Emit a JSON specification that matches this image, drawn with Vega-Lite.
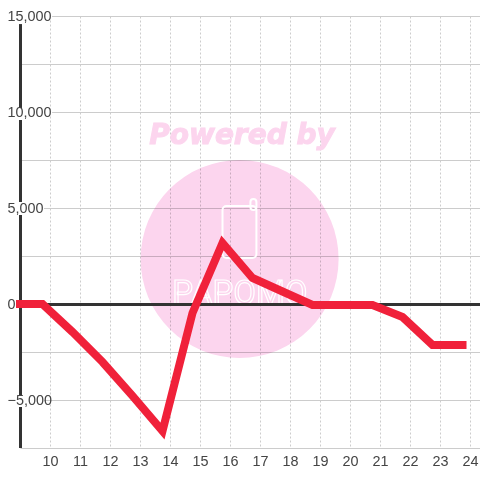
{"$schema":"https://vega.github.io/schema/vega-lite/v6.json","width":460,"height":432,"autosize":"none","padding":{"left":20,"top":16,"right":0,"bottom":32},"background":"white","view":{"stroke":null},
"resolve":{"axis":{"x":"independent","y":"independent"}},
"datasets":{"series":[{"hour":9,"value":0},{"hour":9.75,"value":0},{"hour":10.75,"value":-1458},{"hour":11.75,"value":-3020},{"hour":12.75,"value":-4790},{"hour":13.75,"value":-6615},{"hour":14.75,"value":-470},{"hour":15.75,"value":3177},{"hour":16.75,"value":1354},{"hour":17.75,"value":650},{"hour":18.75,"value":-52},{"hour":19.75,"value":-52},{"hour":20.75,"value":-52},{"hour":21.75,"value":-680},{"hour":22.75,"value":-2135},{"hour":23.75,"value":-2135}],
"barParts":[{"at":9,"from":14580,"to":10208},{"at":9,"from":9583,"to":5312},{"at":9,"from":4635,"to":-4740},{"at":9,"from":-5365,"to":-7500}],
"labelGaps":[{"v":15000,"start":9,"end":10.07},{"v":10000,"start":9,"end":10.07},{"v":5000,"start":9,"end":9.8},{"v":-5000,"start":9,"end":9.8}],"one":[{"k":1}]},
"layer":[
{"data":{"name":"series"},"mark":{"type":"line","opacity":0},"encoding":{
"x":{"field":"hour","type":"quantitative","scale":{"domain":[9,24.333],"nice":false,"zero":false},"axis":{"title":null,"orient":"bottom","values":[10,11,12,13,14,15,16,17,18,19,20,21,22,23,24],"domain":false,"ticks":false,"labels":false,"grid":true,"gridColor":"#cccccc","gridDash":[2,2],"gridWidth":1}},
"y":{"field":"value","type":"quantitative","scale":{"domain":[-7500,15000],"nice":false,"zero":false},"axis":{"title":null,"orient":"left","values":[-7500,-5000,-2500,2500,5000,7500,10000,12500,15000],"domain":false,"ticks":false,"labels":false,"grid":true,"gridColor":"#cccccc","gridWidth":1}}}},
{"data":{"name":"one"},"mark":{"type":"circle","size":39204,"fill":"#fcd5ee","opacity":1,"blend":"multiply","clip":false},"encoding":{"x":{"datum":16.32,"type":"quantitative","axis":null},"y":{"datum":2344,"type":"quantitative","axis":null}}},
{"data":{"name":"one"},"mark":{"type":"text","text":"Powered by","font":"DejaVu Sans","fontWeight":"bold","fontStyle":"italic","fontSize":28,"fill":"#fcd5ee","stroke":"#fcd5ee","strokeWidth":1,"align":"center","baseline":"middle"},"encoding":{"x":{"datum":16.4,"type":"quantitative","axis":null},"y":{"datum":8750,"type":"quantitative","axis":null}}},
{"data":{"name":"one"},"mark":{"type":"rect","fillOpacity":0,"stroke":"white","strokeWidth":2,"cornerRadius":4},"encoding":{"x":{"datum":15.75,"type":"quantitative","axis":null},"x2":{"datum":16.88},"y":{"datum":5104,"type":"quantitative","axis":null},"y2":{"datum":2396}}},
{"data":{"name":"one"},"mark":{"type":"rect","fillOpacity":0,"stroke":"white","strokeWidth":2,"cornerRadius":3},"encoding":{"x":{"datum":16.68,"type":"quantitative","axis":null},"x2":{"datum":16.88},"y":{"datum":5469,"type":"quantitative","axis":null},"y2":{"datum":4900}}},
{"data":{"name":"one"},"mark":{"type":"text","text":"PAPOMO","font":"Roboto","fontSize":33,"fill":"#fcd5ee","stroke":"white","strokeWidth":1.2,"align":"center","baseline":"alphabetic"},"encoding":{"x":{"datum":16.33,"type":"quantitative","axis":null},"y":{"datum":0,"type":"quantitative","axis":null}}},
{"data":{"name":"labelGaps"},"mark":{"type":"rule","stroke":"white","strokeWidth":3},"encoding":{"x":{"field":"start","type":"quantitative","axis":null},"x2":{"field":"end"},"y":{"field":"v","type":"quantitative","axis":null}}},
{"data":{"name":"one"},"mark":{"type":"rule","stroke":"#333333","strokeWidth":3,"yOffset":0.5},"encoding":{"y":{"datum":0,"type":"quantitative","axis":null}}},
{"data":{"name":"barParts"},"mark":{"type":"rule","stroke":"#333333","strokeWidth":3,"xOffset":0.5},"encoding":{"x":{"field":"at","type":"quantitative","axis":null},"y":{"field":"from","type":"quantitative","axis":null},"y2":{"field":"to"}}},
{"data":{"name":"series"},"mark":{"type":"line","stroke":"#f0213a","strokeWidth":8,"strokeCap":"square","strokeJoin":"miter","clip":false},"encoding":{"x":{"field":"hour","type":"quantitative","axis":null},"y":{"field":"value","type":"quantitative","axis":null}}},
{"data":{"name":"series"},"mark":{"type":"line","opacity":0},"encoding":{
"x":{"field":"hour","type":"quantitative","axis":{"title":null,"orient":"bottom","values":[10,11,12,13,14,15,16,17,18,19,20,21,22,23,24],"format":"d","domain":false,"ticks":false,"labelPadding":6,"labelFont":"Liberation Sans","labelFontSize":14.4,"labelColor":"#444444","grid":false,"labelFlush":false,"labelOverlap":false,"zindex":1}},
"y":{"field":"value","type":"quantitative","axis":{"title":null,"orient":"left","values":[-5000,0,5000,10000,15000],"format":",d","domain":false,"ticks":false,"labelAlign":"left","labelPadding":13,"labelFont":"Liberation Sans","labelFontSize":14.4,"labelColor":"#444444","grid":false,"labelOverlap":false,"labelFlush":false,"zindex":1,"encode":{"labels":{"update":{"dx":{"signal":"datum.value < 0 ? -5 : 0"}}}}}}}}
]}
